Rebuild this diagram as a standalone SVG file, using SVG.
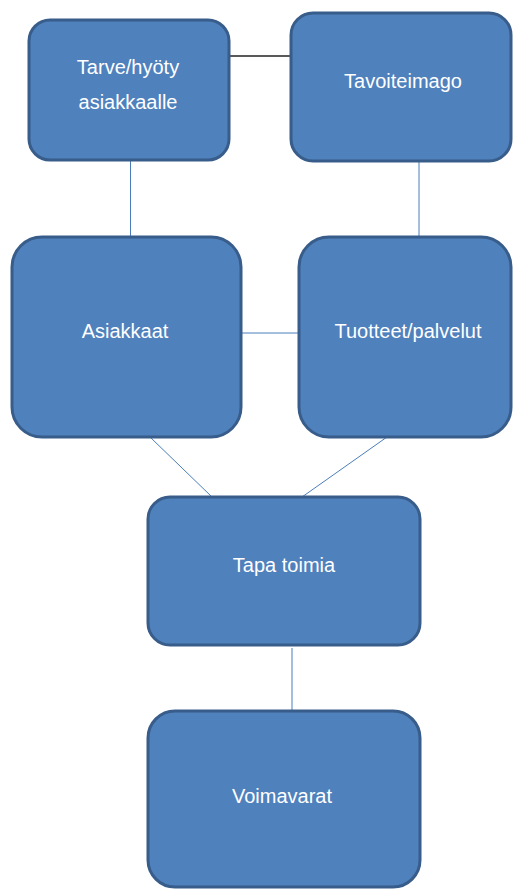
<svg xmlns="http://www.w3.org/2000/svg" width="513" height="890" viewBox="0 0 513 890">
<style>
.box{fill:#4f81bd;stroke:#385d8a;stroke-width:3}
.lbl{font-family:"Liberation Sans",Arial,sans-serif;font-size:20px;fill:#ffffff;text-anchor:middle}
.conn{stroke:#4a7ebb;stroke-width:1;fill:none}
.dark{stroke:#222222;stroke-width:1.5;fill:none}
</style>
<rect width="513" height="890" fill="#ffffff"/>
<g id="connectors">
<line class="dark" x1="229" y1="56" x2="291" y2="56"/>
<line class="conn" x1="130.5" y1="161" x2="130.5" y2="237"/>
<line class="conn" x1="419" y1="161" x2="419" y2="237"/>
<line class="conn" x1="241" y1="333" x2="299" y2="333"/>
<line class="conn" x1="150" y1="437" x2="212" y2="497"/>
<line class="conn" x1="387" y1="437" x2="302" y2="497"/>
<line class="conn" x1="292" y1="648" x2="292" y2="711"/>
</g>
<g id="node-tarve">
<rect class="box" x="29" y="20" width="200" height="140" rx="21"/>
<text class="lbl" x="128" y="74">Tarve/hyöty</text>
<text class="lbl" x="128" y="109">asiakkaalle</text>
</g>
<g id="node-tavoiteimago">
<rect class="box" x="291" y="13" width="220" height="148" rx="22"/>
<text class="lbl" x="403" y="88">Tavoiteimago</text>
</g>
<g id="node-asiakkaat">
<rect class="box" x="12" y="237" width="229" height="200" rx="30"/>
<text class="lbl" x="125" y="338">Asiakkaat</text>
</g>
<g id="node-tuotteet">
<rect class="box" x="299" y="237" width="212" height="200" rx="30"/>
<text class="lbl" x="408" y="338">Tuotteet/palvelut</text>
</g>
<g id="node-tapa">
<rect class="box" x="148" y="497" width="272" height="148" rx="22"/>
<text class="lbl" x="284" y="572">Tapa toimia</text>
</g>
<g id="node-voimavarat">
<rect class="box" x="148" y="711" width="272" height="176" rx="27"/>
<text class="lbl" x="282" y="803">Voimavarat</text>
</g>
</svg>
